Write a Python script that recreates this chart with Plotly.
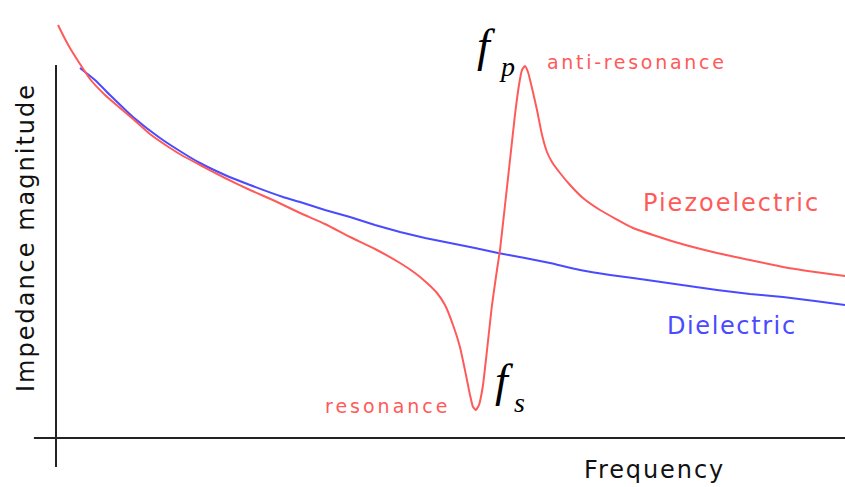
import plotly.graph_objects as go

# Piezoelectric element: impedance magnitude vs frequency (arbitrary units)
piezo_freq = [0.25, 1.01, 1.77, 3.04, 4.31, 6.21, 8.11, 9.76, 11.91, 14.07, 16.10,
              18.25, 21.42, 24.59, 27.76, 30.93, 34.09, 37.26, 40.43, 43.60, 45.50,
              47.02, 48.29, 49.30, 50.32, 51.20, 51.96, 52.47, 52.85, 53.23, 53.61,
              54.12, 54.63, 55.26, 55.89, 56.27, 56.91, 57.54, 58.17, 58.68, 59.06,
              59.44, 59.82, 60.33, 60.96, 61.60, 62.23, 62.86, 63.88, 65.15, 66.79,
              68.95, 73.13, 78.45, 83.78, 87.96, 92.14, 96.20, 100.0]
piezo_imp = [103.25, 100.25, 97.5, 93.5, 89.75, 85.75, 82.5, 79.75, 76.0, 73.0, 70.5,
             68.25, 65.0, 62.0, 59.25, 56.25, 53.5, 50.25, 47.25, 43.75, 41.25,
             38.75, 36.25, 33.25, 28.25, 22.75, 15.75, 10.75, 7.75, 7.0, 8.25,
             13.25, 22.0, 33.25, 42.0, 47.0, 58.25, 69.5, 80.75, 88.25, 92.0,
             93.0, 91.5, 87.5, 82.0, 75.75, 71.5, 69.0, 66.25, 63.25, 60.0,
             57.0, 52.5, 49.0, 46.25, 44.5, 42.75, 41.5, 40.5]

# Plain dielectric (capacitor-like) response
diel_freq = [3.04, 4.94, 6.84, 9.76, 13.18, 16.10, 18.25, 21.42, 24.59, 28.77, 30.93,
             34.09, 37.26, 40.43, 43.60, 46.77, 49.94, 53.10, 56.02, 59.44, 62.61,
             66.41, 70.22, 73.13, 78.45, 83.78, 87.96, 92.14, 96.20, 100.0]
diel_imp = [92.5, 89.5, 85.75, 80.25, 75.0, 71.25, 68.75, 65.75, 63.25, 60.25, 59.0,
            57.0, 55.25, 53.25, 51.5, 50.0, 48.75, 47.5, 46.25, 45.0, 43.75,
            42.0, 40.75, 40.0, 38.5, 37.0, 36.0, 35.25, 34.25, 33.25]

RED = "#ff5a5a"
BLUE = "#4a4aff"
AXIS = "#222222"
SANS = "DejaVu Sans"
SERIF = "Liberation Serif"

fig = go.Figure()
fig.add_trace(go.Scatter(x=diel_freq, y=diel_imp, mode="lines",
                         line=dict(color=BLUE, width=2, shape="spline", smoothing=0.4),
                         hoverinfo="skip"))
fig.add_trace(go.Scatter(x=piezo_freq, y=piezo_imp, mode="lines",
                         line=dict(color=RED, width=2, shape="spline", smoothing=0.4),
                         hoverinfo="skip"))

# axes crossing near the origin
fig.add_shape(type="line", x0=-2.8, x1=100, y0=0, y1=0,
              line=dict(color=AXIS, width=2))
fig.add_shape(type="line", x0=0, x1=0, y0=-7.25, y1=93.25,
              line=dict(color=AXIS, width=2))


def label(x, y, text, size, color, family=SANS, angle=0, xanchor="center",
          spacing=None):
    if spacing is not None:
        text = f'<span style="letter-spacing:{spacing}px">{text}</span>'
    fig.add_annotation(x=x, y=y, text=text, showarrow=False, textangle=angle,
                       xanchor=xanchor, yanchor="middle",
                       font=dict(family=family, size=size, color=color))


label(75.9, -8.0, "Frequency", 24, "#111111", spacing=1.9)
label(-3.8, 50.0, "Impedance magnitude", 24, "#111111", angle=-90, spacing=2.0)
label(85.6, 58.75, "Piezoelectric", 24, RED, spacing=2.0)
label(85.7, 28.0, "Dielectric", 24, BLUE, spacing=1.6)
label(62.0, 94.0, "anti-resonance", 19, RED, xanchor="left", spacing=2.7)
label(50.2, 8.0, "resonance", 19, RED, xanchor="right", spacing=3.0)

# f_p and f_s markers
label(54.5, 98.1, "<i>f</i>", 46, "#000000", family=SERIF)
label(57.1, 93.0, "<i>p</i>", 28, "#000000", family=SERIF)
label(56.8, 14.5, "<i>f</i>", 46, "#000000", family=SERIF)
label(58.7, 9.0, "<i>s</i>", 28, "#000000", family=SERIF)

fig.update_layout(
    width=845, height=487,
    margin=dict(l=0, r=0, t=0, b=0),
    paper_bgcolor="white", plot_bgcolor="white",
    showlegend=False,
    xaxis=dict(range=[-7.098, 100], visible=False, fixedrange=True),
    yaxis=dict(range=[-12.25, 109.5], visible=False, fixedrange=True),
)

fig.write_html("out.html")
